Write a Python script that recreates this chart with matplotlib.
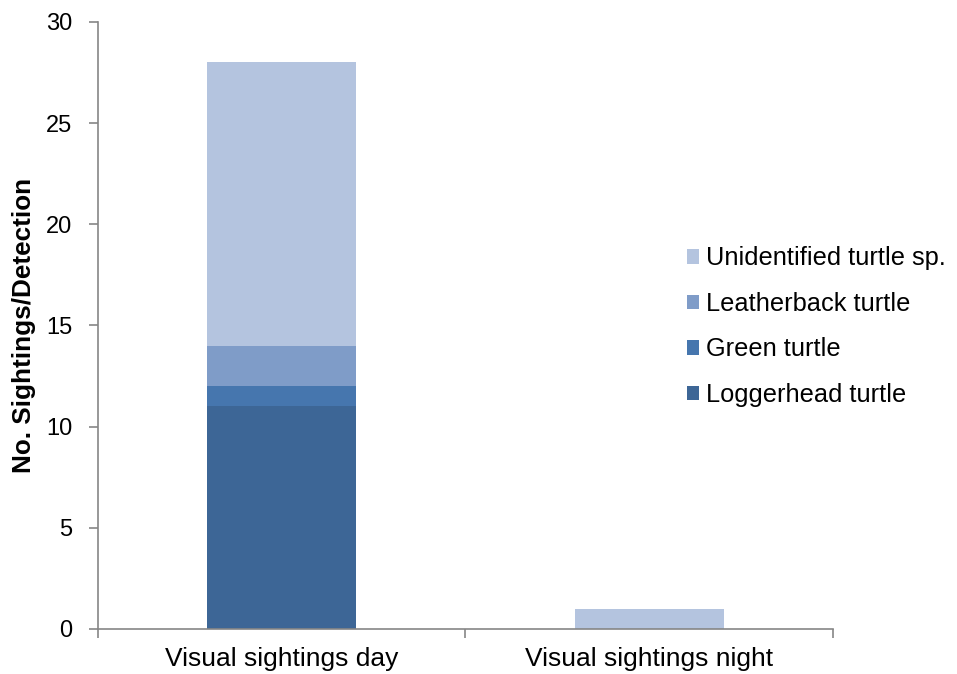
import matplotlib
matplotlib.use("Agg")
from matplotlib import pyplot as plt
import numpy as np

plt.rcParams['font.family'] = ['Liberation Sans', 'DejaVu Sans']

categories = ["Visual sightings day", "Visual sightings night"]
species = ["Loggerhead turtle", "Green turtle", "Leatherback turtle", "Unidentified turtle sp."]
loggerhead = [11, 0]
green = [1, 0]
leatherback = [2, 0]
unidentified = [14, 1]
colors = ["#3D6696", "#4676AE", "#7F9CC8", "#B4C4DF"]

fig = plt.figure(figsize=(9.57, 6.74), dpi=100)
ax = fig.add_axes([0.1024, 0.0668, 0.768, 0.9006])

x = np.arange(len(categories))
bottom = np.zeros(len(categories))
handles = []
for vals, lab, col in zip([loggerhead, green, leatherback, unidentified], species, colors):
	h = ax.bar(x, vals, 0.405, bottom=bottom, color=col, label=lab)
	handles.append(h)
	bottom += np.array(vals)

ax.set_xlim(-0.5, 1.5)
ax.set_ylim(0, 30)
ax.set_yticks(range(0, 31, 5))
ax.set_xticks(x)
ax.set_xticklabels(categories, fontsize=19)
ax.set_xticks([-0.5, 0.5, 1.5], minor=True)
ax.tick_params(axis='x', which='major', length=0, pad=13)
ax.tick_params(axis='x', which='minor', length=6.5, color='#868686', width=1.2)
ax.tick_params(axis='y', length=6.5, color='#868686', width=1.2, labelsize=17, pad=12)
for s in ['top', 'right']:
	ax.spines[s].set_visible(False)
for s in ['left', 'bottom']:
	ax.spines[s].set_color('#868686')
	ax.spines[s].set_linewidth(1.2)

ax.set_ylabel("No. Sightings/Detection", fontsize=18.8, fontweight='bold', labelpad=7)

ax.legend(handles[::-1], species[::-1], loc='center left', bbox_to_anchor=(0.8014, 0.498),
	frameon=False, fontsize=18.3, handlelength=0.48, handleheight=0.5, handletextpad=0.28,
	labelspacing=0.85, borderpad=0, borderaxespad=0)

fig.savefig("out.png", dpi=100)
